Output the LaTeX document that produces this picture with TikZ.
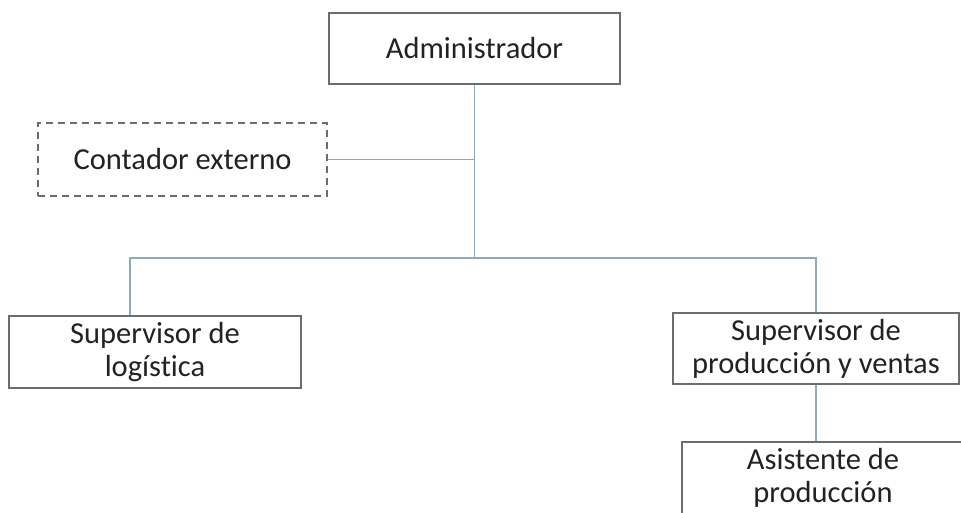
\documentclass[tikz,border=0pt]{standalone}
\usepackage{fontspec}
\setmainfont{Carlito}[Ligatures={NoCommon,NoRare}]
\definecolor{boxline}{HTML}{6A6E70}
\definecolor{connline}{HTML}{8EA8BC}
\definecolor{txt}{HTML}{222222}
\tikzset{
  orgbox/.style={draw=boxline, line width=1.2pt, rectangle, inner sep=0pt,
    align=center, text=txt, font=\fontsize{30.5}{33}\selectfont},
  extbox/.style={orgbox, dash pattern=on 7pt off 5pt},
  conn/.style={draw=connline, line width=1.5pt}
}
\begin{document}
\begin{tikzpicture}[x=1pt,y=-1pt]
\useasboundingbox (0,0) rectangle (961,512);
\fill[white] (0,0) rectangle (961,512);
\clip (0,0) rectangle (961,512);

\node[orgbox, minimum width=291pt, minimum height=71pt] (admin) at (474.5,48.5) {Administrador};
\node[extbox, minimum width=289pt, minimum height=73pt] (cont) at (182.5,159.5) {Contador externo};
\node[orgbox, minimum width=292pt, minimum height=72pt] (supl) at (155,352) {Supervisor de\\logística};
\node[orgbox, minimum width=286pt, minimum height=71pt] (supp) at (816,348.5) {Supervisor de\\producción y ventas};
\node[orgbox, minimum width=282pt, minimum height=72pt] (asis) at (823,478) {Asistente de\\producción};

\coordinate (j) at (474.5,258);
\coordinate (bl) at (130,258);

\draw[conn] (admin.south) -- (j);
\draw[conn] (cont.east) -- (cont.east -| admin.south);
\draw[conn] (bl |- supl.north) -- (bl) -- (j -| supp.north) -- (supp.north);
\draw[conn] (supp.south) -- (supp.south |- asis.north);
\end{tikzpicture}
\end{document}
